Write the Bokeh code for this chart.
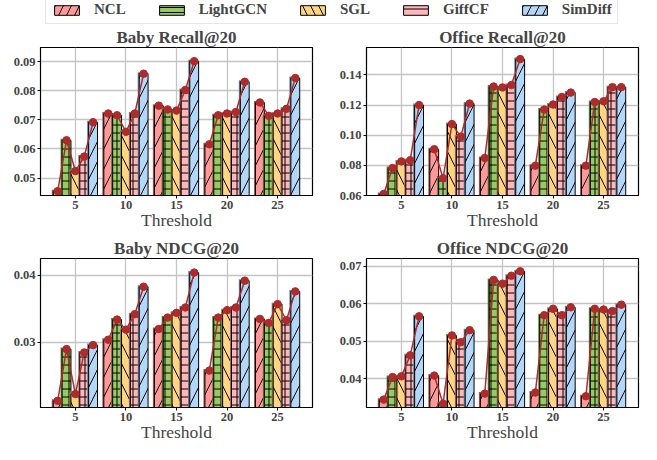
from bokeh.plotting import figure
from bokeh.layouts import column, row
from bokeh.models import Range1d, FixedTicker, NumeralTickFormatter, Legend, LegendItem
from bokeh.embed import file_html
from bokeh.resources import INLINE

# ---------------- data ----------------
thresholds = [5, 10, 15, 20, 25]
models = ["NCL", "LightGCN", "SGL", "GiffCF", "SimDiff"]

baby_recall_ncl = [0.0455, 0.0722, 0.0749, 0.0616, 0.0760]
baby_recall_lightgcn = [0.0630, 0.0716, 0.0736, 0.0716, 0.0714]
baby_recall_sgl = [0.0524, 0.0659, 0.0732, 0.0722, 0.0722]
baby_recall_giffcf = [0.0574, 0.0722, 0.0803, 0.0727, 0.0738]
baby_recall_simdiff = [0.0692, 0.0859, 0.0902, 0.0831, 0.0844]

office_recall_ncl = [0.0610, 0.0907, 0.0849, 0.0798, 0.0798]
office_recall_lightgcn = [0.0782, 0.0715, 0.1323, 0.1170, 0.1220]
office_recall_sgl = [0.0826, 0.1074, 0.1317, 0.1204, 0.1225]
office_recall_giffcf = [0.0834, 0.0991, 0.1333, 0.1254, 0.1319]
office_recall_simdiff = [0.1200, 0.1210, 0.1505, 0.1283, 0.1319]

baby_ndcg_ncl = [0.0213, 0.0304, 0.0320, 0.0258, 0.0335]
baby_ndcg_lightgcn = [0.0290, 0.0334, 0.0337, 0.0337, 0.0329]
baby_ndcg_sgl = [0.0223, 0.0319, 0.0344, 0.0348, 0.0357]
baby_ndcg_giffcf = [0.0285, 0.0342, 0.0352, 0.0352, 0.0333]
baby_ndcg_simdiff = [0.0296, 0.0383, 0.0404, 0.0392, 0.0376]

office_ndcg_ncl = [0.0345, 0.0409, 0.0361, 0.0364, 0.0354]
office_ndcg_lightgcn = [0.0405, 0.0334, 0.0664, 0.0570, 0.0587]
office_ndcg_sgl = [0.0407, 0.0516, 0.0654, 0.0587, 0.0585]
office_ndcg_giffcf = [0.0463, 0.0498, 0.0675, 0.0570, 0.0581]
office_ndcg_simdiff = [0.0567, 0.0530, 0.0687, 0.0591, 0.0598]

baby_recall_ticks = [0.05, 0.06, 0.07, 0.08, 0.09]
office_recall_ticks = [0.06, 0.08, 0.10, 0.12, 0.14]
baby_ndcg_ticks = [0.03, 0.04]
office_ndcg_ticks = [0.04, 0.05, 0.06, 0.07]

x_label = "Threshold"

# ---------------- style ----------------
FONT = "Liberation Serif"
fills = ["#FF9999", "#97C965", "#FFD583", "#FFB6B9", "#B3D7F9"]
hatches = ["/", "+", "\\", "+", "/"]
hatch_scales = [20, 8, 20, 8, 20]
legend_hatches = ["/", "-", "\\", "-", "/"]
legend_hatch_scales = [16, 5, 16, 8, 16]
LINE_COLOR = "#AD2B2B"
BAR_W = 0.875
XMIN, XMAX = 1.55, 28.45


def darker(hexcol, f=0.6):
    h = hexcol.lstrip("#")
    r, g, b = (int(h[i:i + 2], 16) for i in (0, 2, 4))
    return "#%02x%02x%02x" % (int(r * f), int(g * f), int(b * f))


def make_panel(title, series, ymin, ymax, yticks, width, height,
               bl, br, bt, bb):
    p = figure(width=width, height=height, output_backend="svg",
               toolbar_location=None, title=title,
               x_range=Range1d(XMIN, XMAX), y_range=Range1d(ymin, ymax),
               min_border_left=bl, min_border_right=br,
               min_border_top=bt, min_border_bottom=bb)
    p.title.text_font = FONT
    p.title.text_font_style = "bold"
    p.title.text_font_size = "17px"
    p.title.align = "center"
    p.title.standoff = 2
    p.title.offset = 0
    p.outline_line_color = "black"
    p.outline_line_width = 1.2
    p.outline_line_alpha = 1

    frame_w = width - bl - br
    frame_h = height - bt - bb
    dx = 1.5 * (XMAX - XMIN) / frame_w
    dy = 1.5 * (ymax - ymin) / frame_h

    for j, vals in enumerate(series):
        xs = [t + (j - 2) * BAR_W for t in thresholds]
        p.vbar(x=[x - dx for x in xs], top=[v + dy for v in vals],
               bottom=0, width=BAR_W, fill_color=darker(fills[j]),
               line_color=None)
        p.vbar(x=xs, top=vals, bottom=0, width=BAR_W,
               fill_color=fills[j], line_color="black", line_width=1,
               hatch_pattern=hatches[j], hatch_scale=hatch_scales[j],
               hatch_color="black", hatch_weight=1)

    for i, t in enumerate(thresholds):
        gx = [t + (j - 2) * BAR_W for j in range(5)]
        gy = [series[j][i] for j in range(5)]
        p.line(gx, gy, line_color=LINE_COLOR, line_width=1.5)
        p.scatter(gx, gy, size=7.5, fill_color=LINE_COLOR,
                  line_color=LINE_COLOR)

    p.xaxis.ticker = FixedTicker(ticks=thresholds)
    p.yaxis.ticker = FixedTicker(ticks=yticks)
    p.yaxis.formatter = NumeralTickFormatter(format="0.00")
    p.xaxis.axis_label = x_label
    p.xaxis.axis_label_text_font = FONT
    p.xaxis.axis_label_text_font_style = "normal"
    p.xaxis.axis_label_text_font_size = "17.5px"
    p.xaxis.axis_label_standoff = -2
    for ax in (p.xaxis, p.yaxis):
        ax.major_label_text_font = FONT
        ax.major_label_text_font_style = "bold"
        ax.major_label_text_font_size = "12.5px"
        ax.major_tick_out = 3
        ax.major_tick_in = 0
        ax.minor_tick_out = 0
        ax.minor_tick_in = 0
        ax.axis_line_color = "black"
        ax.major_tick_line_color = "black"
        ax.major_label_standoff = 2
    p.xgrid.ticker = FixedTicker(ticks=thresholds)
    p.ygrid.ticker = FixedTicker(ticks=yticks)
    for g in (p.xgrid, p.ygrid):
        g.grid_line_color = "#c4c4c4"
        g.grid_line_width = 1.3
    return p


WL, WR = 318, 322
p1 = make_panel("Baby Recall@20",
                [baby_recall_ncl, baby_recall_lightgcn, baby_recall_sgl,
                 baby_recall_giffcf, baby_recall_simdiff],
                0.0440, 0.0949, baby_recall_ticks, WL, 208, 40, 6, 23, 35)
p2 = make_panel("Office Recall@20",
                [office_recall_ncl, office_recall_lightgcn, office_recall_sgl,
                 office_recall_giffcf, office_recall_simdiff],
                0.0600, 0.1582, office_recall_ticks, WR, 208, 48, 2, 23, 35)
p3 = make_panel("Baby NDCG@20",
                [baby_ndcg_ncl, baby_ndcg_lightgcn, baby_ndcg_sgl,
                 baby_ndcg_giffcf, baby_ndcg_simdiff],
                0.0203, 0.0425, baby_ndcg_ticks, WL, 212, 40, 6, 26, 36)
p4 = make_panel("Office NDCG@20",
                [office_ndcg_ncl, office_ndcg_lightgcn, office_ndcg_sgl,
                 office_ndcg_giffcf, office_ndcg_simdiff],
                0.0324, 0.0721, office_ndcg_ticks, WR, 212, 48, 2, 26, 36)

# ---------------- legend strip ----------------
lg = figure(width=WL + WR, height=24, output_backend="svg",
            toolbar_location=None, x_range=Range1d(0, 1),
            y_range=Range1d(0, 1), min_border=0,
            x_axis_location=None, y_axis_location=None)
lg.grid.visible = False
lg.outline_line_color = None
items = []
for j, m in enumerate(models):
    r = lg.vbar(x=[0.5], bottom=[5], top=[6], width=0.1, fill_color=fills[j],
                line_color="black", line_width=1,
                hatch_pattern=legend_hatches[j],
                hatch_scale=legend_hatch_scales[j], hatch_color="black",
                hatch_weight=1)
    items.append(LegendItem(label=m, renderers=[r]))
leg = Legend(items=items, orientation="horizontal", location=(45, 0),
             label_text_font=FONT, label_text_font_style="bold",
             label_text_font_size="15px", glyph_width=31, glyph_height=12,
             label_standoff=12, spacing=30, padding=5, margin=0,
             border_line_color="#cfcfcf", border_line_width=1,
             background_fill_color="white", background_fill_alpha=1)
lg.add_layout(leg, "center")

layout = column(lg, row(p1, p2), row(p3, p4), spacing=0)

open("out.html", "w").write(file_html(layout, INLINE))
